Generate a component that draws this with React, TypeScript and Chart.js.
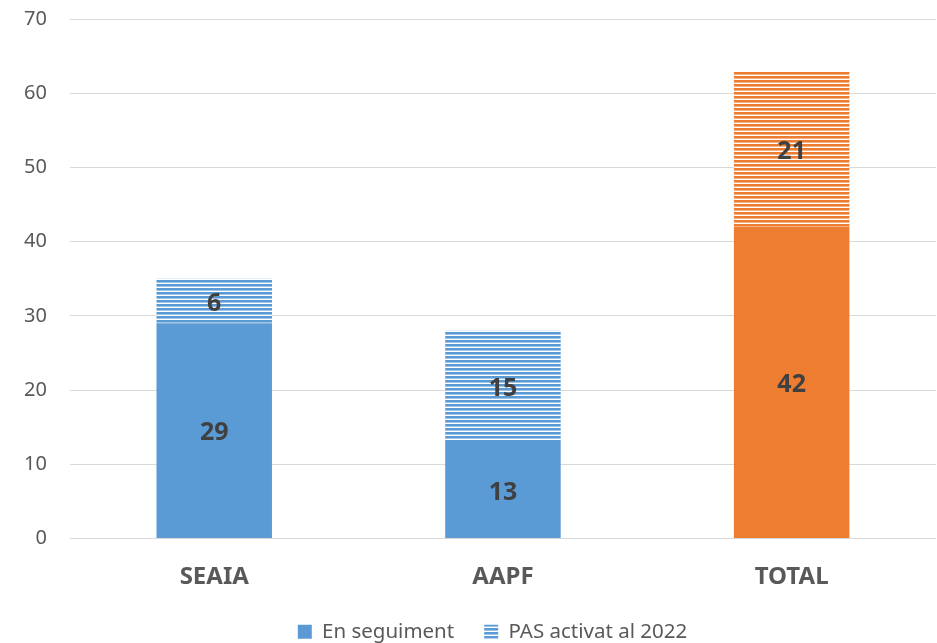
import React, { useEffect, useRef } from "react";
import { Chart, registerables } from "chart.js";

Chart.register(...registerables);

const categories = ["SEAIA", "AAPF", "TOTAL"];
const seriesNames = ["En seguiment", "PAS activat al 2022"];
const enSeguiment = [29, 13, 42];
const pasActivat = [6, 15, 21];
const yTicks = [0, 10, 20, 30, 40, 50, 60, 70];

const BLUE = "#5B9BD5";
const ORANGE = "#ED7D31";
const FONT = "'Noto Sans', 'Open Sans', sans-serif";

function makePattern(color: string): CanvasPattern | string {
  const c = document.createElement("canvas");
  c.width = 4;
  c.height = 4;
  const g = c.getContext("2d");
  if (!g) return color;
  g.fillStyle = "#ffffff";
  g.fillRect(0, 0, 4, 4);
  g.fillStyle = color;
  g.fillRect(0, 0, 4, 2);
  g.globalAlpha = 0.6;
  g.fillRect(0, 2, 4, 1);
  const p = g.createPattern(c, "repeat");
  return p || color;
}

const valueLabels = {
  id: "valueLabels",
  afterDatasetsDraw(chart: any) {
    const ctx = chart.ctx;
    ctx.save();
    ctx.font = `bold 25px ${FONT}`;
    ctx.fillStyle = "#404040";
    ctx.textAlign = "center";
    ctx.textBaseline = "middle";
    chart.data.datasets.forEach((ds: any, di: number) => {
      const meta = chart.getDatasetMeta(di);
      meta.data.forEach((el: any, i: number) => {
        const p = el.getCenterPoint();
        ctx.fillText(String(ds.data[i]), p.x, p.y + 2.5);
      });
    });
    ctx.restore();
  },
};

const legendShift = {
  id: "legendShift",
  afterLayout(chart: any) {
    if (chart.legend) {
      chart.legend.left = 49;
    }
  },
};

export default function App() {
  const ref = useRef<HTMLCanvasElement>(null);
  useEffect(() => {
    if (!ref.current) return;
    const blueP = makePattern(BLUE);
    const orangeP = makePattern(ORANGE);
    const chart = new Chart(ref.current, {
      type: "bar",
      data: {
        labels: categories,
        datasets: [
          {
            label: seriesNames[0],
            data: enSeguiment,
            backgroundColor: (c: any) => (c.dataIndex === 2 ? ORANGE : BLUE),
            borderWidth: 0,
          },
          {
            label: seriesNames[1],
            data: pasActivat,
            backgroundColor: (c: any) => (c.dataIndex === 2 ? orangeP : blueP),
            borderWidth: 0,
          },
        ],
      },
      options: {
        animation: false,
        responsive: false,
        maintainAspectRatio: false,
        layout: { padding: { left: 1, right: 1, top: 0, bottom: -9 } },
        datasets: { bar: { categoryPercentage: 1, barPercentage: 0.4 } },
        scales: {
          x: {
            stacked: true,
            grid: { display: false, drawTicks: false },
            border: { display: false },
            ticks: {
              color: "#595959",
              font: { family: FONT, size: 24, weight: "bold" },
              padding: 24,
            },
            afterFit: (axis: any) => {
              axis.height = 53;
            },
          },
          y: {
            stacked: true,
            min: 0,
            max: 70,
            afterBuildTicks: (axis: any) => {
              axis.ticks = yTicks.map((v) => ({ value: v }));
            },
            afterFit: (axis: any) => {
              axis.paddingTop = 19;
              axis.paddingBottom = 12;
            },
            grid: { color: "#D9D9D9", lineWidth: 1, drawTicks: false },
            border: { display: false },
            ticks: {
              color: "#595959",
              font: { family: FONT, size: 20 },
              padding: 23,
            },
          },
        },
        plugins: {
          legend: {
            position: "bottom",
            labels: {
              color: "#595959",
              font: { family: FONT, size: 20.5 },
              boxWidth: 14,
              boxHeight: 14,
              padding: 30,
            },
          },
          tooltip: { enabled: false },
        },
      },
      plugins: [valueLabels, legendShift],
    } as any);
    return () => chart.destroy();
  }, []);
  return (
    <div style={{ position: "fixed", left: 0, top: 0, width: 937, height: 643, background: "#fff" }}>
      <canvas ref={ref} width={937} height={643} style={{ width: 937, height: 643 }} />
    </div>
  );
}
